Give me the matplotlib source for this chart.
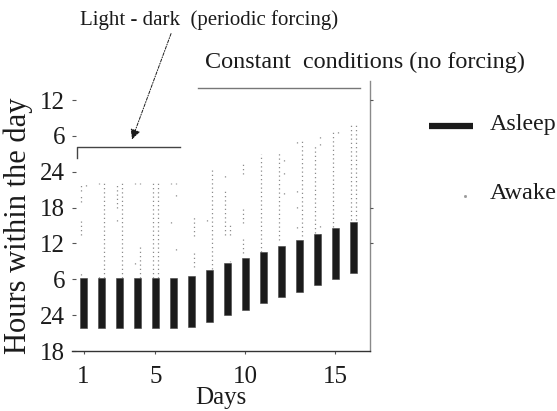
import matplotlib
matplotlib.use("Agg")
import matplotlib.pyplot as plt
from matplotlib.lines import Line2D
from matplotlib.patches import FancyArrowPatch

plt.rcParams['font.family'] = ['Liberation Serif', 'DejaVu Serif']

# Sleep episodes per day, hours on a continuous clock (18 = 18:00 of the first plotted evening)
days = [1, 2, 3, 4, 5, 6, 7, 8, 9, 10, 11, 12, 13, 14, 15, 16]
sleep_onset = [21.9, 21.9, 21.9, 21.9, 21.9, 21.9, 22.0, 22.9, 24.0, 24.9,
               26.0, 27.0, 27.9, 29.0, 30.0, 31.0]
sleep_offset = [30.2, 30.2, 30.2, 30.2, 30.2, 30.2, 30.5, 31.5, 32.7, 33.6,
                34.6, 35.6, 36.6, 37.6, 38.6, 39.6]

# Awake activity runs: day, column (-1 left / +1 right of the bar), start, end
awake_day = [1, 1, 1, 1, 1,
             2, 2, 2,
             3, 3, 3,
             4, 4, 4, 4,
             5, 5,
             6, 6, 6, 6, 6,
             7, 7,
             8, 8,
             9, 9, 9, 9,
             10, 10, 10,
             11,
             12, 12, 12, 12,
             13, 13, 13, 13, 13,
             14, 14, 14, 14, 14,
             15, 15,
             16, 16]
awake_side = [-1, -1, -1, -1, 1,
              -1, -1, 1,
              -1, -1, 1,
              -1, -1, 1, 1,
              -1, 1,
              -1, -1, 1, 1, 1,
              1, 1,
              -1, 1,
              -1, -1, 1, 1,
              -1, -1, -1,
              -1,
              -1, 1, 1, 1,
              -1, -1, -1, -1, 1,
              -1, 1, 1, 1, 1,
              -1, 1,
              -1, 1]
awake_start = [44.8, 42.9, 37.5, 30.8, 45.7,
               45.9, 30.3, 30.3,
               42.0, 39.7, 30.3,
               45.9, 32.5, 45.9, 30.3,
               30.3, 30.3,
               45.9, 39.4, 45.9, 43.9, 34.9,
               37.2, 32.1,
               39.7, 31.8,
               47.2, 37.4, 37.4, 32.3,
               47.6, 39.5, 34.4,
               34.6,
               36.6, 49.8, 47.6, 44.2,
               52.9, 44.7, 41.9, 38.6, 37.2,
               37.7, 53.7, 52.5, 38.8, 37.5,
               38.7, 54.5,
               39.9, 39.9]
awake_end = [46.2, 43.9, 40.0, 31.2, 46.2,
             46.2, 30.6, 46.2,
             46.2, 40.1, 46.2,
             46.2, 33.0, 46.2, 35.6,
             46.2, 46.2,
             46.2, 39.8, 46.2, 44.3, 35.3,
             40.5, 34.6,
             40.2, 48.3,
             47.7, 45.0, 39.5, 33.0,
             49.3, 42.2, 36.8,
             50.9,
             51.3, 50.2, 48.0, 44.8,
             53.3, 45.1, 42.3, 39.0, 53.1,
             52.6, 54.1, 52.9, 39.5, 37.9,
             55.0, 55.0,
             56.1, 56.1]

hour_ticks = [18, 24, 30, 36, 42, 48, 54, 60]
hour_labels = ['18', '24', '6', '12', '18', '24', '6', '12']
day_ticks = [1, 5, 10, 15]

W, H = 557, 411
fig = plt.figure(figsize=(W / 100, H / 100), dpi=100)
ax = fig.add_axes([72 / W, 60 / H, 298 / W, 270 / H])

ink = '#1b1b1b'
col_gap = 0.15
for d, s, a, b in zip(awake_day, awake_side, awake_start, awake_end):
    ax.plot([d + s * col_gap, d + s * col_gap], [a, b], color='#8c8c8c',
            lw=0.9, linestyle=(0, (1, 2.4)), solid_capstyle='butt', zorder=1)

heights = [off - on for on, off in zip(sleep_onset, sleep_offset)]
ax.bar(days, heights, bottom=sleep_onset, width=0.34, color=ink,
       edgecolor='#444444', linewidth=0.4, zorder=2)

ax.set_xlim(0.36, 16.92)
ax.set_ylim(18, 63.2)

ax.set_xticks(day_ticks)
ax.set_xticklabels([str(t) for t in day_ticks])
ax.set_yticks(hour_ticks)
ax.set_yticklabels(hour_labels)

for side in ('left', 'top'):
    ax.spines[side].set_visible(False)
ax.spines['right'].set_color('#8a8a8a')
ax.spines['right'].set_linewidth(1.0)
ax.spines['bottom'].set_color('#333333')
ax.spines['bottom'].set_linewidth(1.0)

ax.tick_params(axis='x', direction='out', length=2.5, width=0.8, color='#555555',
               labelsize=18, labelcolor=ink, pad=8)
ax.tick_params(axis='y', direction='in', length=3, width=0.8, color='#555555',
               labelsize=18, labelcolor=ink, pad=5)
# only the 12 / 18 / 12 positions carry tick marks
for tk, val in zip(ax.yaxis.get_major_ticks(), hour_ticks):
    if val not in (36, 42, 60):
        tk.tick1line.set_visible(False)

axr = ax.twinx()
axr.set_ylim(ax.get_ylim())
axr.set_yticks([36, 42, 60])
axr.set_yticklabels([])
axr.tick_params(axis='y', direction='out', length=2.5, width=0.8, color='#555555')
for side in ('left', 'top', 'bottom', 'right'):
    axr.spines[side].set_visible(False)

ax.set_xlabel('Days', fontsize=18, color=ink)
ax.xaxis.set_label_coords(0.5, -36 / 270)
ax.set_ylabel('Hours within the day', fontsize=22, color=ink)
ax.yaxis.set_label_coords(-39 / 298, (351 - 226) / 270)

# condition brackets
ax.plot([0.64, 0.64, 6.36], [50.3, 52.1, 52.1], color='#444444', lw=1.0,
        clip_on=False)
ax.plot([7.36, 16.36], [62.1, 62.1], color='#777777', lw=1.0, clip_on=False)

fig.text(80 / W, 1 - 20 / H, 'Light - dark  (periodic forcing)', fontsize=15,
         color=ink, ha='left', va='center')
fig.text(205 / W, 1 - 62 / H, 'Constant  conditions (no forcing)', fontsize=17.4,
         color=ink, ha='left', va='center')

arrow = FancyArrowPatch((172 / W, 1 - 31 / H), (131 / W, 1 - 142 / H),
                        transform=fig.transFigure, arrowstyle='-|>',
                        mutation_scale=15, linestyle=(0, (3, 1.5, 1, 1.5)),
                        lw=0.7, color=ink)
fig.add_artist(arrow)

# key
fig.add_artist(Line2D([429 / W, 473 / W], [1 - 126 / H, 1 - 126 / H],
                      transform=fig.transFigure, color=ink, lw=4.5,
                      solid_capstyle='butt'))
fig.add_artist(Line2D([465 / W], [1 - 196 / H], transform=fig.transFigure,
                      marker='s', markersize=1, color='#999999', lw=0))
fig.text(490 / W, 1 - 124 / H, 'Asleep', fontsize=17.3, color=ink,
         ha='left', va='center')
fig.text(490 / W, 1 - 193 / H, 'Awake', fontsize=17.6, color=ink,
         ha='left', va='center')

fig.savefig('out.png', dpi=100)
